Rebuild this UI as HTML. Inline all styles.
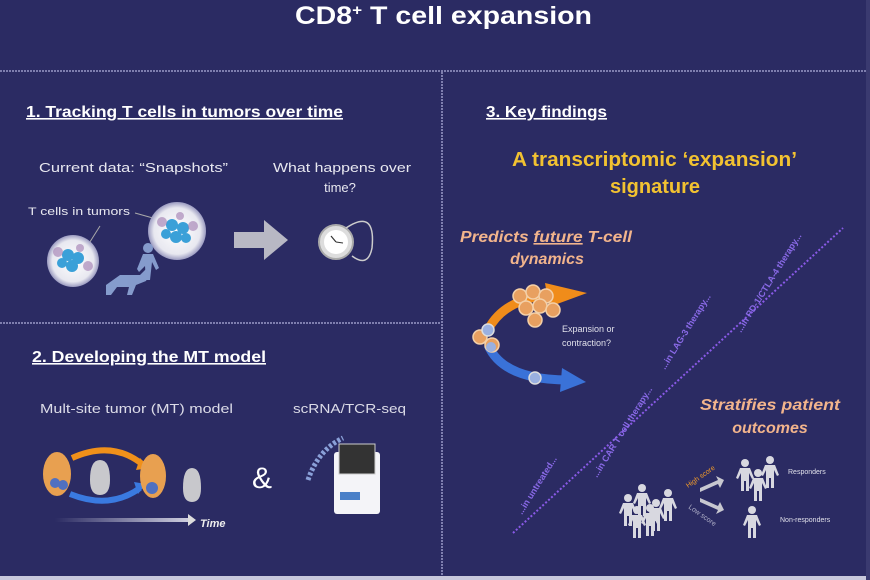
<!DOCTYPE html>
<html><head><meta charset="utf-8"><style>
html,body{margin:0;padding:0;background:#2b2b63;}
svg{display:block;font-family:"Liberation Sans",Arial,sans-serif;}
</style></head><body>
<svg width="870" height="580" viewBox="0 0 870 580" xmlns="http://www.w3.org/2000/svg">
<defs>
<radialGradient id="cell" cx="50%" cy="50%" r="50%"><stop offset="0" stop-color="#ffffff"/><stop offset="0.8" stop-color="#e8e8f0"/><stop offset="1" stop-color="#9a9ac0"/></radialGradient>
<linearGradient id="tl" x1="0" x2="1"><stop offset="0" stop-color="#2b2b63"/><stop offset="1" stop-color="#d0d0e0"/></linearGradient>
<g id="p"><circle cx="0" cy="-12" r="4"/><path d="M-5 -7 h10 l4 10 l-2 1 l-3 -6 v18 h-3 v-10 h-2 v10 h-3 v-18 l-3 6 l-2 -1z"/></g>
</defs>
<rect width="870" height="580" fill="#2b2b63"/>
<text x="295" y="24" fill="#fff" font-size="25" font-weight="bold" textLength="297" lengthAdjust="spacingAndGlyphs">CD8<tspan font-size="15" dy="-9">+</tspan><tspan dy="9"> T cell expansion</tspan></text>
<line x1="0" y1="71" x2="870" y2="71" stroke="#9a9ac8" stroke-width="1.5" stroke-dasharray="2 1"/>
<line x1="442" y1="72" x2="442" y2="578" stroke="#9a9ac8" stroke-width="1.5" stroke-dasharray="2 1"/>
<line x1="0" y1="323" x2="441" y2="323" stroke="#9a9ac8" stroke-width="1.5" stroke-dasharray="2 1"/>
<rect x="0" y="576" width="870" height="4" fill="#c8c8dc"/>
<rect x="866" y="0" width="4" height="580" fill="#3a3a70"/>

<!-- Section 1 -->
<text x="26" y="117" fill="#fff" font-size="16" font-weight="bold" text-decoration="underline" textLength="317" lengthAdjust="spacingAndGlyphs">1. Tracking T cells in tumors over time</text>
<text x="39" y="172" fill="#e8e8f0" font-size="13" textLength="189" lengthAdjust="spacingAndGlyphs">Current data: “Snapshots”</text>
<text x="273" y="172" fill="#e8e8f0" font-size="13" textLength="138" lengthAdjust="spacingAndGlyphs">What happens over</text>
<text x="340" y="192" fill="#e8e8f0" font-size="13" text-anchor="middle">time?</text>
<text x="28" y="215" fill="#e8e8f0" font-size="11" textLength="102" lengthAdjust="spacingAndGlyphs">T cells in tumors</text>
<line x1="100" y1="226" x2="88" y2="245" stroke="#aaa" stroke-width="1"/>
<line x1="135" y1="213" x2="160" y2="220" stroke="#aaa" stroke-width="1"/>
<circle cx="73" cy="261" r="26" fill="url(#cell)"/>
<g fill="#3aa0d8"><circle cx="68" cy="255" r="6"/><circle cx="78" cy="258" r="6"/><circle cx="72" cy="266" r="6"/><circle cx="62" cy="263" r="5"/></g>
<g fill="#a07ab0" opacity="0.6"><circle cx="58" cy="252" r="5"/><circle cx="88" cy="266" r="5"/><circle cx="80" cy="248" r="4"/></g>
<circle cx="177" cy="231" r="29" fill="url(#cell)"/>
<g fill="#3aa0d8"><circle cx="172" cy="225" r="6"/><circle cx="183" cy="228" r="6"/><circle cx="176" cy="237" r="6"/><circle cx="166" cy="234" r="5"/><circle cx="186" cy="238" r="5"/></g>
<g fill="#a07ab0" opacity="0.6"><circle cx="162" cy="222" r="5"/><circle cx="193" cy="226" r="5"/><circle cx="180" cy="216" r="4"/></g>
<g fill="#8fa8d8" opacity="0.9"><path d="M106 285 l14 -10 l20 0 l6 -6 l4 4 l-4 8 l-10 4 l-4 10 l-5 0 l2 -8 l-12 0 l-6 8 l-5 0z"/><circle cx="148" cy="248" r="5"/><path d="M143 254 l10 0 l6 14 l-3 2 l-4 -8 l-2 18 l-4 0 l-1 -14 l-6 6 l-2 -3z"/></g>
<path d="M234 232 h30 v-12 l24 20 l-24 20 v-12 h-30z" fill="#b8b8c4"/>
<circle cx="336" cy="242" r="17" fill="#ddd" stroke="#aaa" stroke-width="2"/>
<circle cx="336" cy="242" r="12" fill="#fff"/>
<line x1="336" y1="242" x2="331" y2="236" stroke="#333" stroke-width="1.2"/><line x1="336" y1="242" x2="343" y2="243" stroke="#333" stroke-width="1"/>
<path d="M346 228 q30 -20 26 20 q-4 20 -20 8" fill="none" stroke="#ccc" stroke-width="1.5"/>

<!-- Section 2 -->
<text x="32" y="362" fill="#fff" font-size="16" font-weight="bold" text-decoration="underline" textLength="234" lengthAdjust="spacingAndGlyphs">2. Developing the MT model</text>
<text x="40" y="413" fill="#dcdce8" font-size="13" textLength="193" lengthAdjust="spacingAndGlyphs">Mult-site tumor (MT) model</text>
<text x="293" y="413" fill="#dcdce8" font-size="13" textLength="113" lengthAdjust="spacingAndGlyphs">scRNA/TCR-seq</text>
<ellipse cx="57" cy="474" rx="14" ry="22" fill="#e8a050"/>
<circle cx="55" cy="483" r="5" fill="#5070c0"/><circle cx="63" cy="485" r="5" fill="#5070c0"/>
<path d="M72 458 q40 -18 70 6" fill="none" stroke="#f0901a" stroke-width="6"/><path d="M140 458 l10 10 l-14 2z" fill="#f0901a"/>
<path d="M70 494 q40 16 70 -6" fill="none" stroke="#3a7ae0" stroke-width="6"/><path d="M134 482 l12 2 l-8 10z" fill="#3a7ae0"/>
<path d="M90 480 q0 -20 10 -20 q10 0 10 20 q0 15 -10 15 q-10 0 -10 -15z" fill="#c8c8cc"/>
<ellipse cx="153" cy="476" rx="13" ry="22" fill="#e8a050"/>
<circle cx="152" cy="488" r="6" fill="#5070c0"/>
<path d="M183 488 q0 -20 9 -20 q9 0 9 20 q0 14 -9 14 q-9 0 -9 -14z" fill="#c8c8cc"/>
<rect x="55" y="518" width="135" height="4" fill="url(#tl)"/><path d="M188 514 l8 6 l-8 6z" fill="#ddd"/>
<text x="200" y="527" fill="#eee" font-size="11" font-style="italic" font-weight="bold">Time</text>
<text x="262" y="488" fill="#fff" font-size="30" text-anchor="middle">&amp;</text>
<path d="M308 480 q10 -30 35 -42" fill="none" stroke="#8aa0d8" stroke-width="5" stroke-dasharray="3 2"/>
<rect x="334" y="452" width="46" height="62" rx="3" fill="#f4f4f8"/>
<rect x="339" y="444" width="36" height="30" fill="#333" stroke="#ccc"/>
<rect x="340" y="492" width="20" height="8" fill="#4a80c8"/>

<!-- Section 3 -->
<text x="486" y="117" fill="#fff" font-size="16" font-weight="bold" text-decoration="underline" textLength="121" lengthAdjust="spacingAndGlyphs">3. Key findings</text>
<text x="512" y="166" fill="#f2c231" font-size="20" font-weight="bold" textLength="285" lengthAdjust="spacingAndGlyphs">A transcriptomic ‘expansion’</text>
<text x="655" y="193" fill="#f2c231" font-size="20" font-weight="bold" text-anchor="middle">signature</text>
<text x="460" y="242" fill="#f2b48c" font-size="16" font-weight="bold" font-style="italic" textLength="172" lengthAdjust="spacingAndGlyphs">Predicts <tspan text-decoration="underline">future</tspan> T-cell</text>
<text x="547" y="264" fill="#f2b48c" font-size="16" font-weight="bold" font-style="italic" text-anchor="middle">dynamics</text>
<path d="M488 330 q15 -30 60 -35" fill="none" stroke="#f08c1a" stroke-width="9"/>
<path d="M545 283 l42 10 l-38 14z" fill="#f08c1a"/>
<path d="M488 345 q15 35 80 35" fill="none" stroke="#3a72d8" stroke-width="9"/>
<path d="M562 368 l24 14 l-26 10z" fill="#3a72d8"/>
<g fill="#e8a060" stroke="#f4d0a8" stroke-width="1.5">
<circle cx="520" cy="296" r="7"/><circle cx="533" cy="292" r="7"/><circle cx="546" cy="296" r="7"/><circle cx="526" cy="308" r="7"/><circle cx="540" cy="306" r="7"/><circle cx="553" cy="310" r="7"/><circle cx="535" cy="320" r="7"/>
<circle cx="480" cy="337" r="7"/><circle cx="492" cy="345" r="7"/></g>
<g fill="#9ab0e0"><circle cx="488" cy="330" r="6" stroke="#ddd" stroke-width="1.5"/><circle cx="535" cy="378" r="6" stroke="#ddd" stroke-width="1.5"/><circle cx="491" cy="347" r="5"/></g>
<text x="562" y="332" fill="#e0e0ea" font-size="9">Expansion or</text>
<text x="562" y="346" fill="#e0e0ea" font-size="9">contraction?</text>
<line x1="513" y1="533" x2="843" y2="228" stroke="#8a5ae8" stroke-width="2" stroke-dasharray="2 2"/>
<g fill="#8a6ae8" font-size="9" font-weight="bold">
<text transform="translate(522,515) rotate(-58)">...in untreated...</text>
<text transform="translate(597,478) rotate(-58)">...in CAR T cell therapy...</text>
<text transform="translate(665,370) rotate(-58)">...in LAG-3 therapy...</text>
<text transform="translate(741,333) rotate(-58)">...in PD-1/CTLA-4 therapy...</text>
</g>
<text x="700" y="410" fill="#f2b48c" font-size="16" font-weight="bold" font-style="italic" textLength="140" lengthAdjust="spacingAndGlyphs">Stratifies patient</text>
<text x="770" y="433" fill="#f2b48c" font-size="16" font-weight="bold" font-style="italic" text-anchor="middle">outcomes</text>
<g fill="#d8d8e0">
<use href="#p" x="628" y="510"/><use href="#p" x="642" y="500"/><use href="#p" x="656" y="515"/><use href="#p" x="668" y="505"/><use href="#p" x="650" y="520"/><use href="#p" x="637" y="522"/>
<use href="#p" x="745" y="475"/><use href="#p" x="758" y="485"/><use href="#p" x="770" y="472"/>
<use href="#p" x="752" y="522"/>
</g>
<path d="M700 488 l18 -8 l-2 -4 l8 4 l-4 8 l-2 -4 l-18 8z" fill="#c8c8d0"/>
<path d="M700 502 l18 8 l-2 4 l8 -4 l-4 -8 l-2 4 l-18 -8z" fill="#c8c8d0"/>
<text transform="translate(688,488) rotate(-35)" fill="#f09a2a" font-size="7">High score</text>
<text transform="translate(688,508) rotate(35)" fill="#b0b0c8" font-size="7">Low score</text>
<text x="788" y="474" fill="#e0e0ea" font-size="7">Responders</text>
<text x="780" y="522" fill="#e0e0ea" font-size="7">Non-responders</text>
</svg>
</body></html>
